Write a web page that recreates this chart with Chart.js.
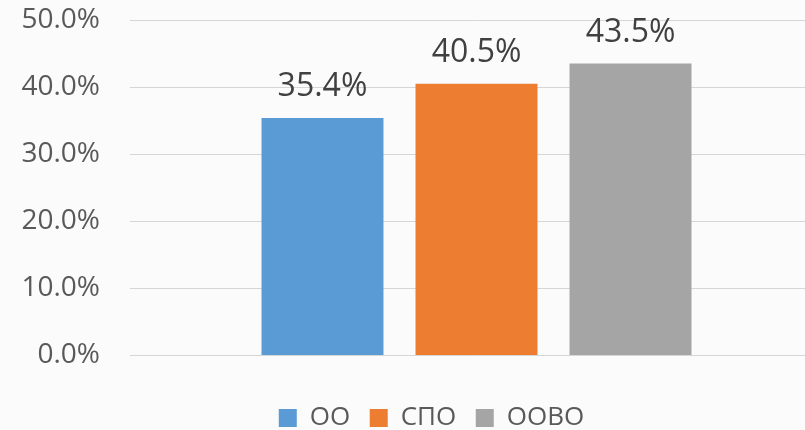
<!DOCTYPE html>
<html>
<head>
<meta charset="utf-8">
<script src="https://cdn.jsdelivr.net/npm/chart.js@4/dist/chart.umd.min.js"></script>
<style>
  html, body { margin: 0; padding: 0; overflow: hidden; background: #fbfbfb; }
  #wrap { width: 823px; height: 441px; }
</style>
</head>
<body>
<div id="wrap"><canvas id="grafico"></canvas></div>
<script>
// Datos del gráfico
const categorias = [""];
const series = ["ОО", "СПО", "ООВО"];
const valores = [35.4, 40.5, 43.5];
const colores = ["#5B9BD5", "#ED7D31", "#A5A5A5"];
const ticksY = [0, 10, 20, 30, 40, 50];

const FUENTE = "'Open Sans', 'DejaVu Sans', sans-serif";

// Etiquetas de valor encima de cada barra
const etiquetasValor = {
    id: "etiquetasValor",
    afterDatasetsDraw(chart) {
        const ctx = chart.ctx;
        ctx.save();
        ctx.font = "32px " + FUENTE;
        ctx.fillStyle = "#404040";
        ctx.textAlign = "center";
        ctx.textBaseline = "alphabetic";
        chart.data.datasets.forEach((ds, i) => {
            const meta = chart.getDatasetMeta(i);
            meta.data.forEach((bar, j) => {
                ctx.fillText(ds.data[j].toFixed(1) + "%", bar.x, bar.y - 22);
            });
        });
        ctx.restore();
    }
};

// Desplaza la leyenda para centrarla como en el original
const moverLeyenda = {
    id: "moverLeyenda",
    afterLayout(chart) {
        if (chart.legend) chart.legend.left += 40;
    }
};

new Chart(document.getElementById("grafico"), {
    type: "bar",
    data: {
        labels: categorias,
        datasets: series.map((nombre, i) => ({
            label: nombre,
            data: [valores[i]],
            backgroundColor: colores[i],
            borderWidth: 0,
            categoryPercentage: 0.6667,
            barPercentage: 0.792,
        })),
    },
    options: {
        responsive: true,
        maintainAspectRatio: false,
        animation: false,
        layout: { padding: { left: 0, top: 20, right: 0, bottom: 0 } },
        scales: {
            x: {
                grid: { display: true, drawOnChartArea: false, drawTicks: true, tickLength: 30, tickColor: "rgba(0,0,0,0)" },
                border: { display: false },
                ticks: { display: false },
            },
            y: {
                min: 0,
                max: 50,
                afterBuildTicks: (scale) => { scale.ticks = ticksY.map(v => ({ value: v })); },
                afterFit: (scale) => {
                    scale.width = 130;
                    scale.paddingTop = 4;
                    scale.paddingBottom = 4;
                },
                grid: { color: "#d6d6d6", drawTicks: false, lineWidth: 1 },
                border: { display: false },
                ticks: {
                    padding: 30,
                    color: "#595959",
                    font: { family: FUENTE, size: 28 },
                    callback: (v) => v.toFixed(1) + "%",
                },
            },
        },
        plugins: {
            legend: {
                position: "bottom",
                labels: {
                    boxWidth: 18,
                    boxHeight: 18,
                    padding: 19.5,
                    color: "#595959",
                    font: { family: FUENTE, size: 26 },
                },
            },
            tooltip: { enabled: false },
        },
    },
    plugins: [etiquetasValor, moverLeyenda],
});
</script>
</body>
</html>
